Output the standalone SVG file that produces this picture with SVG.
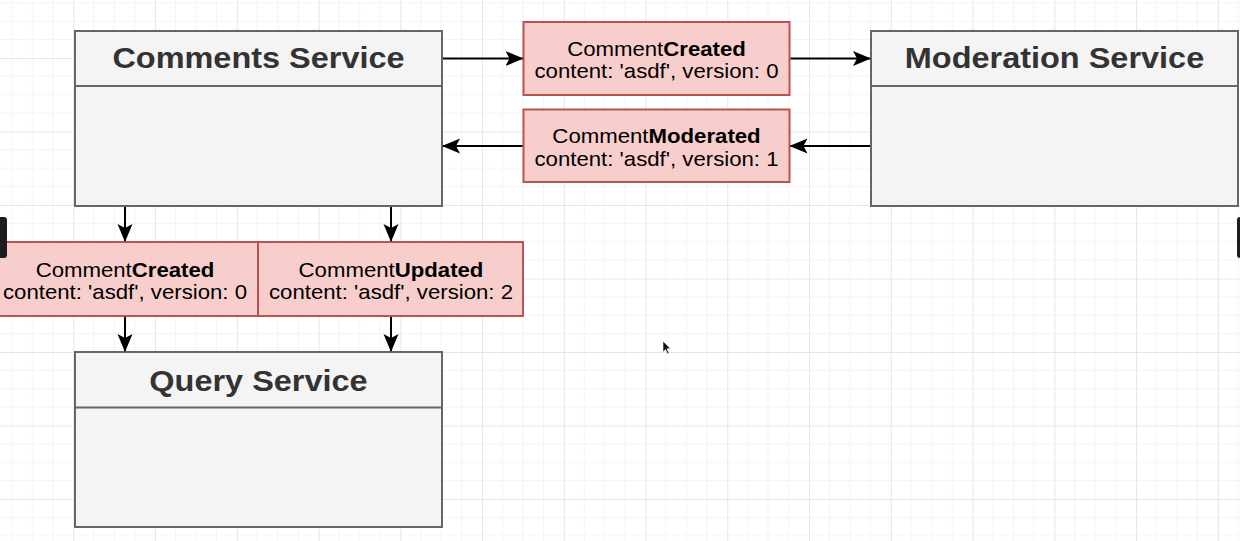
<svg xmlns="http://www.w3.org/2000/svg" width="1240" height="541" viewBox="0 0 1240 541">
  <defs>
    <pattern id="grid" patternUnits="userSpaceOnUse" x="73.3" y="58" width="81.75" height="73.5">
      <path d="M20.44 0V73.5M40.88 0V73.5M61.31 0V73.5M0 18.38H81.75M0 36.75H81.75M0 55.13H81.75" stroke="#f4f4f4" stroke-width="1" fill="none"/>
      <path d="M0.5 0V73.5M0 0.5H81.75" stroke="#e6e6e6" stroke-width="1" fill="none"/>
    </pattern>
    <marker id="arr" viewBox="0 0 18 16" refX="17" refY="8" markerWidth="18" markerHeight="16" markerUnits="userSpaceOnUse" orient="auto">
      <path d="M0 0.5L18 8L0 15.5L4 8Z" fill="#000"/>
    </marker>
    <style>
      .svc { fill: #f4f4f4; stroke: #666; stroke-width: 2; }
      .evt { fill: #f8cecc; stroke: #b85450; stroke-width: 2; }
      .title { font-family: "Liberation Sans", Arial, sans-serif; font-weight: bold; font-size: 29px; fill: #333; text-anchor: middle; }
      .ev { font-family: "Liberation Sans", Arial, sans-serif; font-size: 20px; fill: #000; text-anchor: middle; }
      .b { font-weight: bold; }
      .conn path { stroke: #000; stroke-width: 2; fill: none; marker-end: url(#arr); }
    </style>
  </defs>
  <rect width="1240" height="541" fill="#fff"/>
  <rect width="1240" height="541" fill="url(#grid)"/>

  <g id="comments-service">
    <rect class="svc" x="75" y="31" width="367" height="175"/>
    <line x1="75" y1="86" x2="442" y2="86" stroke="#666" stroke-width="2"/>
    <text class="title" transform="translate(258.5,67.5) scale(1.12,1)">Comments Service</text>
  </g>

  <g id="moderation-service">
    <rect class="svc" x="871" y="31" width="367" height="175"/>
    <line x1="871" y1="86" x2="1238" y2="86" stroke="#666" stroke-width="2"/>
    <text class="title" transform="translate(1054.5,67.5) scale(1.12,1)">Moderation Service</text>
  </g>

  <g id="query-service">
    <rect class="svc" x="75" y="352" width="367" height="175"/>
    <line x1="75" y1="407.5" x2="442" y2="407.5" stroke="#666" stroke-width="2"/>
    <text class="title" transform="translate(258.5,390.5) scale(1.12,1)">Query Service</text>
  </g>

  <g id="evt-created-top">
    <rect class="evt" x="523.5" y="22" width="266" height="73"/>
    <text class="ev" transform="translate(656.5,55.5) scale(1.11,1)">Comment<tspan class="b">Created</tspan></text>
    <text class="ev" transform="translate(656.5,78) scale(1.11,1)">content: 'asdf', version: 0</text>
  </g>

  <g id="evt-moderated">
    <rect class="evt" x="523.5" y="109.5" width="266" height="72.5"/>
    <text class="ev" transform="translate(656.5,143) scale(1.11,1)">Comment<tspan class="b">Moderated</tspan></text>
    <text class="ev" transform="translate(656.5,165.5) scale(1.11,1)">content: 'asdf', version: 1</text>
  </g>

  <g id="evt-created-bottom">
    <rect class="evt" x="-8" y="242" width="266" height="74"/>
    <text class="ev" transform="translate(125,276.5) scale(1.11,1)">Comment<tspan class="b">Created</tspan></text>
    <text class="ev" transform="translate(125,299) scale(1.11,1)">content: 'asdf', version: 0</text>
  </g>

  <g id="evt-updated">
    <rect class="evt" x="258" y="242" width="265" height="74"/>
    <text class="ev" transform="translate(391,276.5) scale(1.11,1)">Comment<tspan class="b">Updated</tspan></text>
    <text class="ev" transform="translate(391,299) scale(1.11,1)">content: 'asdf', version: 2</text>
  </g>

  <g id="connectors" class="conn">
    <path d="M443 58.5H522.5"/>
    <path d="M790.5 58.5H870"/>
    <path d="M870 146H790.5"/>
    <path d="M522.5 146H443"/>
    <path d="M125 207V241"/>
    <path d="M391 207V241"/>
    <path d="M125 317V351"/>
    <path d="M391 317V351"/>
  </g>

  <rect x="-4" y="217" width="11" height="41" rx="3" fill="#1c1c1c"/>
  <rect x="1237" y="217" width="8" height="41" rx="3" fill="#1c1c1c"/>
  <path d="M663 341L663 352L665.5 349.5L667.5 354L669 353.3L667 348.8L670.5 348.8Z" fill="#111" stroke="#fff" stroke-width="0.6"/>
</svg>
